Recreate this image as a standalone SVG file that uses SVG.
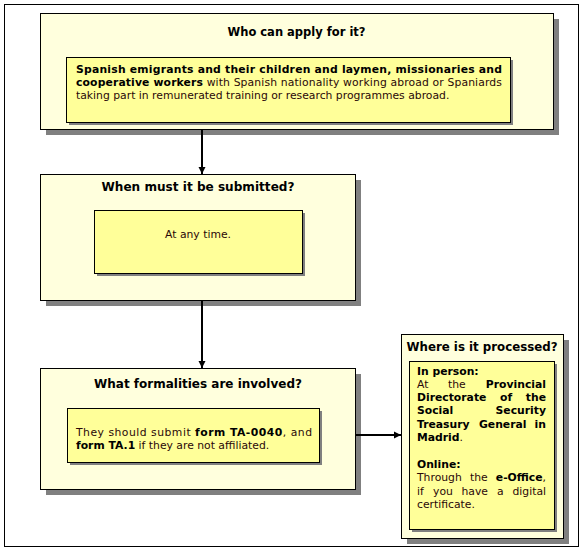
<svg xmlns="http://www.w3.org/2000/svg" width="584" height="551" viewBox="0 0 584 551">
<style>
.outer{fill:#FFFFDD;stroke:#000;stroke-width:1}
.inner{fill:#FFFF99;stroke:#000;stroke-width:1}
.sh{fill:#808080}
.title{font-family:"DejaVu Sans",Verdana,sans-serif;font-weight:bold;font-size:12.5px;fill:#000}
.body{font-family:"DejaVu Sans",Verdana,sans-serif;font-size:10.8px;fill:#2a0808}
.b{font-weight:bold;fill:#000}
.conn{stroke:#000;stroke-width:2;fill:none}
</style>
<defs>
<marker id="arr" markerUnits="userSpaceOnUse" markerWidth="8" markerHeight="8" refX="7" refY="4" orient="auto">
<path d="M0,0.5 L7,4 L0,7.5 z" fill="#000"/>
</marker>
</defs>
<rect x="0" y="0" width="584" height="551" fill="#fff"/>
<rect x="4.5" y="4.5" width="574" height="542" fill="#fff" stroke="#000" stroke-width="1"/>

<g id="node-who">
<rect class="sh" x="46" y="19" width="513" height="116"/>
<rect class="outer" x="40.5" y="13.5" width="513" height="116"/>
<text class="title" x="296.5" y="36" text-anchor="middle" textLength="138" lengthAdjust="spacingAndGlyphs">Who can apply for it?</text>
<rect class="sh" x="69" y="60" width="444" height="65"/>
<rect class="inner" x="66.5" y="57.5" width="444" height="65"/>
<text class="body b" x="76" y="73" textLength="426" lengthAdjust="spacing">Spanish emigrants and their children and laymen, missionaries and</text>
<text class="body" x="76" y="86" textLength="426" lengthAdjust="spacing"><tspan class="b">cooperative workers</tspan> with Spanish nationality working abroad or Spaniards</text>
<text class="body" x="76" y="99">taking part in remunerated training or research programmes abroad.</text>
</g>

<g id="node-when">
<rect class="sh" x="46" y="180" width="315" height="126"/>
<rect class="outer" x="40.5" y="174.5" width="315" height="126"/>
<text class="title" x="198" y="191" text-anchor="middle" textLength="193" lengthAdjust="spacingAndGlyphs">When must it be submitted?</text>
<rect class="sh" x="97" y="213" width="208" height="63"/>
<rect class="inner" x="94.5" y="210.5" width="208" height="63"/>
<text class="body" x="198" y="238" text-anchor="middle">At any time.</text>
</g>

<g id="node-what">
<rect class="sh" x="46" y="374" width="315" height="121"/>
<rect class="outer" x="40.5" y="368.5" width="315" height="121"/>
<text class="title" x="198" y="388" text-anchor="middle" textLength="208" lengthAdjust="spacingAndGlyphs">What formalities are involved?</text>
<rect class="sh" x="70" y="411" width="252" height="54"/>
<rect class="inner" x="67.5" y="408.5" width="252" height="54"/>
<text class="body" x="76" y="436" textLength="236" lengthAdjust="spacing">They should submit <tspan class="b">form TA-0040</tspan>, and</text>
<text class="body" x="76" y="449"><tspan class="b">form TA.1</tspan> if they are not affiliated.</text>
</g>

<g id="node-where">
<rect class="sh" x="407" y="340" width="162" height="204"/>
<rect class="outer" x="401.5" y="334.5" width="162" height="204"/>
<text class="title" x="482" y="351" text-anchor="middle" textLength="151" lengthAdjust="spacingAndGlyphs">Where is it processed?</text>
<rect class="sh" x="412" y="364" width="145" height="168"/>
<rect class="inner" x="409.5" y="361.5" width="145" height="168"/>
<text class="body b" x="417" y="375">In person:</text>
<text class="body" x="417" y="388">At</text>
<text class="body" x="448" y="388">the</text>
<text class="body b" x="546" y="388" text-anchor="end">Provincial</text>
<text class="body b" x="417" y="401">Directorate</text>
<text class="body b" x="500" y="401">of</text>
<text class="body b" x="546" y="401" text-anchor="end">the</text>
<text class="body b" x="417" y="414">Social</text>
<text class="body b" x="546" y="414" text-anchor="end">Security</text>
<text class="body b" x="417" y="428">Treasury</text>
<text class="body b" x="479" y="428">General</text>
<text class="body b" x="546" y="428" text-anchor="end">in</text>
<text class="body" x="417" y="441"><tspan class="b">Madrid</tspan>.</text>
<text class="body b" x="417" y="468">Online:</text>
<text class="body" x="417" y="481">Through</text>
<text class="body" x="470" y="481">the</text>
<text class="body" x="546" y="481" text-anchor="end"><tspan class="b">e-Office</tspan>,</text>
<text class="body" x="417" y="495">if</text>
<text class="body" x="433" y="495">you</text>
<text class="body" x="461.5" y="495">have</text>
<text class="body" x="497" y="495">a</text>
<text class="body" x="546" y="495" text-anchor="end">digital</text>
<text class="body" x="417" y="508">certificate.</text>
</g>

<g id="connectors">
<line class="conn" x1="202" y1="130" x2="202" y2="174" marker-end="url(#arr)"/>
<line class="conn" x1="202" y1="301" x2="202" y2="368" marker-end="url(#arr)"/>
<line class="conn" x1="356" y1="435" x2="401" y2="435" marker-end="url(#arr)"/>
</g>
</svg>
